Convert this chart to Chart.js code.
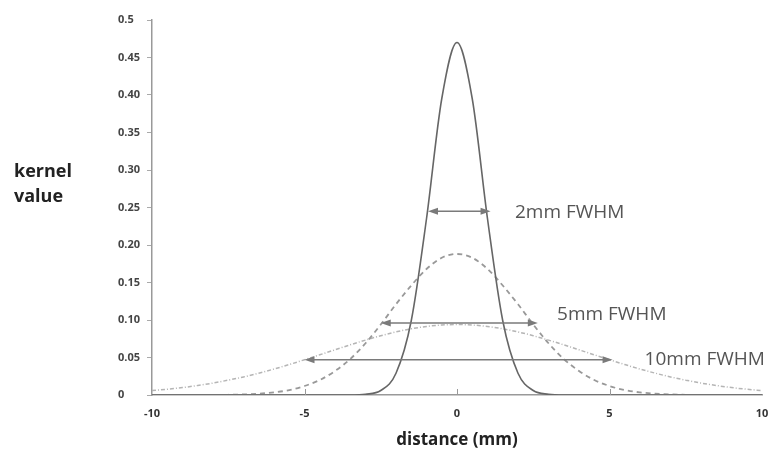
<!DOCTYPE html>
<html>
<head>
<meta charset="utf-8">
<script src="https://cdn.jsdelivr.net/npm/chart.js@4/dist/chart.umd.min.js"></script>
<style>
  html, body { margin: 0; padding: 0; background: #fff; }
  #wrap { width: 770px; height: 457px; }
</style>
</head>
<body>
<div id="wrap"><canvas id="chart" width="770" height="457"></canvas></div>
<script>
// distance in mm
const distances = [
  -10, -9.5, -9, -8.5, -8, -7.5, -7, -6.5, -6, -5.5, -5, -4.5, -4, -3.5, -3, -2.5, -2, -1.5, -1, -0.5,
  0, 0.5, 1, 1.5, 2, 2.5, 3, 3.5, 4, 4.5, 5, 5.5, 6, 6.5, 7, 7.5, 8, 8.5, 9, 9.5, 10
]

// kernel values
const kernel2mm = [
  0, 0, 0, 0, 0, 0, 0, 0, 0, 0, 0, 0, 0, 0, 0.001, 0.006, 0.029, 0.099, 0.235, 0.395,
  0.47,
  0.395, 0.235, 0.099, 0.029, 0.006, 0.001, 0, 0, 0, 0, 0, 0, 0, 0, 0, 0, 0, 0, 0, 0
]
const kernel5mm = [
  0, 0, 0, 0, 0.0001, 0.0003, 0.0008, 0.0017, 0.0035, 0.0065, 0.012, 0.02, 0.032, 0.048, 0.069, 0.094, 0.121, 0.146, 0.168, 0.183,
  0.188,
  0.183, 0.168, 0.146, 0.121, 0.094, 0.069, 0.048, 0.032, 0.02, 0.012, 0.0065, 0.0035, 0.0017, 0.0008, 0.0003, 0.0001, 0, 0, 0, 0
]
const kernel10mm = [
  0.0059, 0.0077, 0.0099, 0.0127, 0.0159, 0.0198, 0.0241, 0.0291, 0.0346, 0.0406, 0.047, 0.0536, 0.0603, 0.0669, 0.0732, 0.079, 0.0841, 0.0883, 0.0914, 0.0933,
  0.094,
  0.0933, 0.0914, 0.0883, 0.0841, 0.079, 0.0732, 0.0669, 0.0603, 0.0536, 0.047, 0.0406, 0.0346, 0.0291, 0.0241, 0.0198, 0.0159, 0.0127, 0.0099, 0.0077, 0.0059
]

const xTickValues = [-10, -5, 0, 5, 10]
const yTickValues = [0, 0.05, 0.1, 0.15, 0.2, 0.25, 0.3, 0.35, 0.4, 0.45, 0.5]
const yTickLabels = ["0", "0.05", "0.10", "0.15", "0.20", "0.25", "0.30", "0.35", "0.40", "0.45", "0.5"]

// FWHM arrows
const fwhmNames = ["2mm FWHM", "5mm FWHM", "10mm FWHM"]
const arrowFrom = [-0.95, -2.5, -5.0]
const arrowTo = [1.1, 2.65, 5.1]
const arrowLevel = [0.245, 0.096, 0.047]

const labelSpots = [
  { x: 1.9, y: 0.243 },
  { x: 3.28, y: 0.107 },
  { x: 6.15, y: 0.047 },
]

const toPoints = (vals) => distances.map((d, i) => ({ x: d, y: vals[i] }))

const overlay = {
  id: "overlay",
  afterDraw(chart) {
    const { ctx, chartArea } = chart
    const xs = chart.scales.x
    const ys = chart.scales.y
    ctx.save()

    // small inward ticks on the x axis
    ctx.strokeStyle = "#999"
    ctx.lineWidth = 1
    xTickValues.forEach((v) => {
      if (v <= xs.min || v >= xs.max) return
      const px = Math.round(xs.getPixelForValue(v)) + 0.5
      ctx.beginPath()
      ctx.moveTo(px, chartArea.bottom)
      ctx.lineTo(px, chartArea.bottom - 6)
      ctx.stroke()
    })

    // arrows
    ctx.lineWidth = 1.5
    fwhmNames.forEach((name, i) => {
      const x1 = xs.getPixelForValue(arrowFrom[i])
      const x2 = xs.getPixelForValue(arrowTo[i])
      const py = ys.getPixelForValue(arrowLevel[i])
      ctx.strokeStyle = "#7a7a7a"
      ctx.fillStyle = "#7a7a7a"
      ctx.beginPath()
      ctx.moveTo(x1 + 4, py)
      ctx.lineTo(x2 - 4, py)
      ctx.stroke()
      ;[[x1, 1], [x2, -1]].forEach(([hx, dir]) => {
        ctx.beginPath()
        ctx.moveTo(hx, py)
        ctx.lineTo(hx + dir * 10, py - 3.5)
        ctx.lineTo(hx + dir * 10, py + 3.5)
        ctx.closePath()
        ctx.fill()
      })

      ctx.fillStyle = "#555"
      ctx.font = "19px 'Open Sans'"
      ctx.textAlign = "left"
      ctx.textBaseline = "middle"
      ctx.fillText(name, xs.getPixelForValue(labelSpots[i].x), ys.getPixelForValue(labelSpots[i].y))
    })

    // horizontal y title
    ctx.fillStyle = "#222"
    ctx.font = "bold 18px 'Open Sans'"
    ctx.textAlign = "left"
    ctx.textBaseline = "alphabetic"
    ctx.fillText("kernel", 14, 177)
    ctx.fillText("value", 14, 202)

    ctx.restore()
  },
}

new Chart(document.getElementById("chart").getContext("2d"), {
  type: "line",
  data: {
    datasets: [
      {
        label: "2mm FWHM",
        data: toPoints(kernel2mm),
        borderColor: "#666",
        borderWidth: 1.6,
        pointRadius: 0,
        cubicInterpolationMode: "monotone",
        fill: false,
      },
      {
        label: "5mm FWHM",
        data: toPoints(kernel5mm),
        borderColor: "#999",
        borderWidth: 1.8,
        borderDash: [5, 4],
        pointRadius: 0,
        cubicInterpolationMode: "monotone",
        fill: false,
      },
      {
        label: "10mm FWHM",
        data: toPoints(kernel10mm),
        borderColor: "#b5b5b5",
        borderWidth: 1.5,
        borderDash: [4, 2, 1, 2],
        pointRadius: 0,
        cubicInterpolationMode: "monotone",
        fill: false,
      },
    ],
  },
  options: {
    responsive: false,
    animation: false,
    layout: { padding: { left: 118, top: 20, right: 0, bottom: 0 } },
    plugins: {
      legend: { display: false },
      tooltip: { enabled: false },
    },
    scales: {
      x: {
        type: "linear",
        min: -10,
        max: 10,
        afterBuildTicks: (scale) => {
          scale.ticks = xTickValues.map((v) => ({ value: v }))
        },
        afterFit: (scale) => {
          scale.height = 62
          scale.paddingLeft = 0
          scale.paddingRight = 8
        },
        border: { color: "#999", width: 1.5 },
        grid: { drawOnChartArea: false, drawTicks: false },
        ticks: {
          padding: 12,
          maxRotation: 0,
          color: "#333",
          font: { family: "'Open Sans'", size: 11, weight: "bold" },
        },
        title: {
          display: true,
          text: "distance (mm)",
          color: "#222",
          font: { family: "'Open Sans'", size: 17, weight: "bold" },
          padding: { top: 0, bottom: 7 },
        },
      },
      y: {
        min: 0,
        max: 0.5,
        afterBuildTicks: (scale) => {
          scale.ticks = yTickValues.map((v) => ({ value: v }))
        },
        afterFit: (scale) => {
          scale.width = 34
        },
        border: { color: "#999", width: 1.5 },
        grid: { drawOnChartArea: false, drawTicks: true, tickLength: 5, color: "#aaa" },
        ticks: {
          crossAlign: "far",
          padding: 4,
          color: "#444",
          font: { family: "'Open Sans'", size: 11, weight: "bold" },
          callback: (value, index) => yTickLabels[index],
        },
      },
    },
  },
  plugins: [overlay],
})
</script>
</body>
</html>
